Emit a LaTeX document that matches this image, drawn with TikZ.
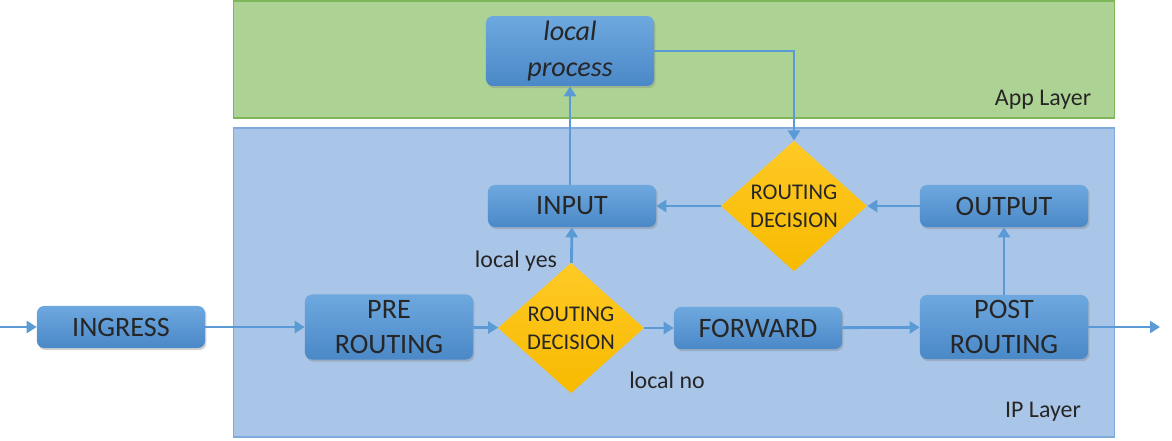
\documentclass[tikz,border=0pt]{standalone}
\usepackage{fontspec}
\setmainfont{Carlito}
\usetikzlibrary{shapes.geometric,shadows,arrows.meta}

\definecolor{flowblue}{HTML}{5B9BD5}
\definecolor{boxtop}{HTML}{6EA8DF}
\definecolor{boxbot}{HTML}{4A88C7}
\definecolor{iplayer}{HTML}{A9C5E7}
\definecolor{iplayerline}{HTML}{7FAADC}
\definecolor{applayer}{HTML}{ADD394}
\definecolor{applayerline}{HTML}{7DB75A}
\definecolor{decide}{HTML}{FFC000}

\begin{document}
\begin{tikzpicture}[
  x=0.025cm, y=-0.025cm,
  layer/.style={draw, line width=0.8pt, minimum width=22cm, inner sep=0pt},
  stage/.style={rounded corners=5pt, top color=boxtop, bottom color=boxbot,
    drop shadow={shadow xshift=1pt, shadow yshift=-1.5pt, opacity=0.35},
    minimum width=4.2cm, minimum height=1.05cm, align=center,
    font=\fontsize{20}{25}\selectfont, text=black!85},
  decision/.style={diamond, top color=decide!85!white, bottom color=decide!97!black,
    minimum width=3.65cm, minimum height=3.1cm, inner sep=0pt, align=center,
    font=\fontsize{16}{20}\selectfont, text=black!85},
  note/.style={font=\fontsize{17}{20}\selectfont, text=black!85},
  flow/.style={->, flowblue, line width=2pt},
  >={Triangle[length=0.25cm,width=0.3cm]}
]
\useasboundingbox (0,0) rectangle (1172,441);

% Layers
\node[layer, fill=applayer, draw=applayerline, minimum height=2.925cm] (app) at (674,59.5) {};
\node[layer, fill=iplayer, draw=iplayerline, minimum height=7.725cm] (ip) at (674,282.5) {};
\node[note] (applbl) at (1043,100) {App Layer};
\node[note] (iplbl) at (1043,412) {IP Layer};

% Stages
\node[stage] (ingress) at (121,327) {INGRESS};
\node[stage, minimum height=1.625cm, text width=3.6cm] (pre) at (389,327) {PRE\\ROUTING};
\node[decision] (rd1) at (571,328) {ROUTING\\DECISION};
\node[stage] (fwd) at (758,328) {FORWARD};
\node[stage, minimum height=1.6cm, text width=3.6cm] (post) at (1004,327) {POST\\ROUTING};
\node[stage] (input) at (572,206) {INPUT};
\node[decision] (rd2) at (794,206) {ROUTING\\DECISION};
\node[stage] (output) at (1004,206) {OUTPUT};
\node[stage, minimum height=1.65cm, text width=3.6cm, font=\fontsize{20}{26}\selectfont\itshape] (local) at (570,51) {local\\process};

\coordinate (src) at (0,327);
\coordinate (dst) at (1160,327);

% Connectors
\draw[flow] (src) -- (ingress);
\draw[flow] (ingress) -- (pre);
\draw[flow] (pre) -- (rd1);
\draw[flow] (rd1) -- (fwd);
\draw[flow] (fwd) -- (post);
\draw[flow] (post) -- (dst);
\draw[flow] (rd1) -- (input);
\draw[flow] (input.north -| local.south) -- (local.south);
\draw[flow] (local.east) -| (rd2.north);
\draw[flow] (post) -- (output);
\draw[flow] (output) -- (rd2);
\draw[flow] (rd2) -- (input);

\node[note] (yes) at (516,261) {local yes};
\node[note] (no) at (667,380) {local no};

\end{tikzpicture}
\end{document}
